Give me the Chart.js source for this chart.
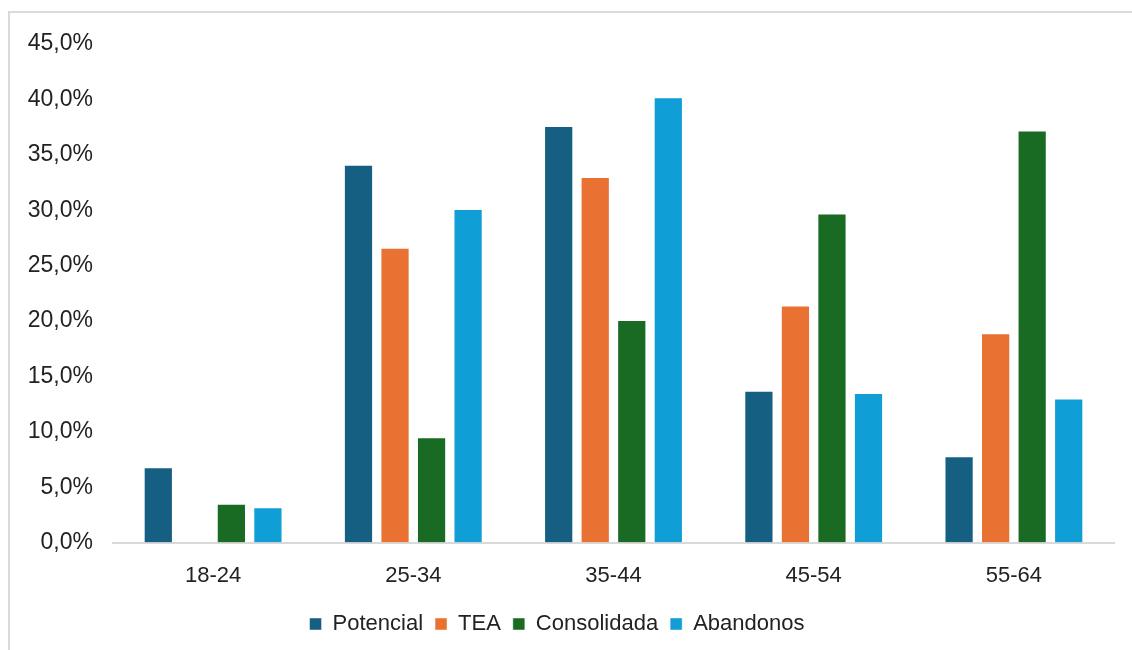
<!DOCTYPE html>
<html>
<head>
<meta charset="utf-8">
<script src="https://cdn.jsdelivr.net/npm/chart.js@4"></script>
<style>
  body { margin: 0; background: #fff; }
  .frame { position: absolute; left: 8px; top: 11px; width: 1140px; height: 660px; border-left: 2px solid #d9d9d9; border-top: 2px solid #d9d9d9; }
  .wrap { position: absolute; left: 0; top: 0; width: 1132px; height: 650px; }
</style>
</head>
<body>
<div class="frame"></div>
<div class="wrap"><canvas id="chart"></canvas></div>
<script>
const ageGroups = ['18-24', '25-34', '35-44', '45-54', '55-64']
const potencial = [6.8, 34.1, 37.6, 13.7, 7.8]
const tea = [0, 26.6, 33.0, 21.4, 18.9]
const consolidada = [3.5, 9.5, 20.1, 29.7, 37.2]
const abandonos = [3.2, 30.1, 40.2, 13.5, 13.0]

const fontFamily = '"Liberation Sans", Arial, sans-serif'
const textColor = '#222'

function makeSet(label, data, color) {
  return {
    label: label,
    data: data,
    backgroundColor: color,
    borderColor: 'rgba(255,255,255,0.45)',
    borderWidth: 1,
    categoryPercentage: 0.73,
    barPercentage: 0.8,
  }
}

const data = {
  labels: ageGroups,
  datasets: [
    makeSet('Potencial', potencial, '#156082'),
    makeSet('TEA', tea, '#E97132'),
    makeSet('Consolidada', consolidada, '#196B24'),
    makeSet('Abandonos', abandonos, '#0F9ED5'),
  ]
}

const config = {
  type: 'bar',
  data: data,
  options: {
    responsive: true,
    maintainAspectRatio: false,
    animation: false,
    layout: {
      padding: { left: 0, right: 18, top: 44, bottom: 5 }
    },
    plugins: {
      tooltip: { enabled: false },
      legend: {
        position: 'bottom',
        labels: {
          color: textColor,
          font: { family: fontFamily, size: 22 },
          boxWidth: 12,
          boxHeight: 12,
          padding: 12,
        }
      }
    },
    scales: {
      x: {
        grid: { display: false },
        border: { display: true, color: '#d9d9d9', width: 2 },
        ticks: {
          color: textColor,
          font: { family: fontFamily, size: 22 },
          padding: 12,
        }
      },
      y: {
        min: 0,
        max: 45,
        grid: { display: false, drawTicks: false },
        border: { display: false },
        ticks: {
          stepSize: 5,
          color: textColor,
          font: { family: fontFamily, size: 23 },
          padding: 20,
          callback: (v) => v.toFixed(1).replace('.', ',') + '%'
        },
        afterFit: (scale) => { scale.width = 113 }
      }
    }
  }
}

new Chart(document.getElementById('chart'), config)
</script>
</body>
</html>
